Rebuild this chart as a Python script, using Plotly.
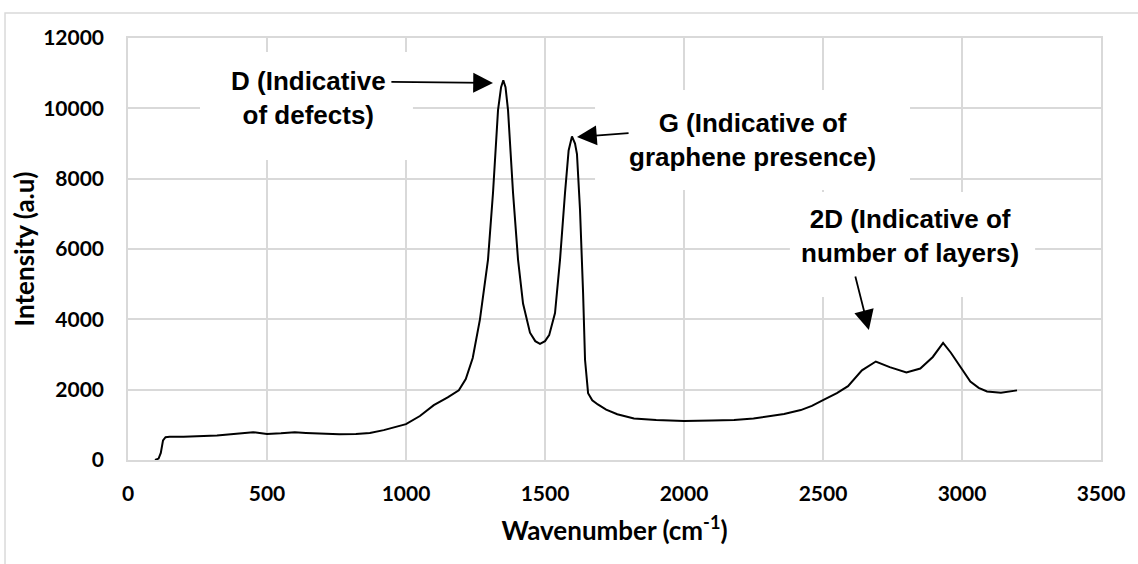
import plotly.graph_objects as go

# Raman spectrum
wavenumber = [97, 110, 118, 126, 135, 150, 200, 260, 320, 380, 420, 450, 480, 500,
              550, 600, 640, 700, 760, 820, 870, 920, 960, 1000, 1050, 1100, 1150,
              1190, 1215, 1240, 1266, 1295, 1313, 1331, 1342, 1350, 1358, 1367, 1385,
              1403, 1421, 1446, 1465, 1482, 1500, 1515, 1536, 1554, 1572, 1585, 1597,
              1608, 1615, 1626, 1637, 1644, 1655, 1670, 1690, 1720, 1760, 1820, 1900,
              2000, 2100, 2180, 2250, 2300, 2360, 2420, 2460, 2500, 2550, 2590, 2640,
              2690, 2740, 2800, 2850, 2895, 2932, 2960, 2990, 3030, 3060, 3090, 3140,
              3170, 3198]
intensity = [0, 40, 200, 560, 650, 660, 660, 670, 700, 740, 760, 790, 760, 740,
             760, 790, 770, 740, 730, 740, 770, 850, 930, 1020, 1250, 1560, 1780,
             1980, 2300, 2900, 4000, 5700, 7600, 9950, 10600, 10800, 10600, 9950, 7600,
             5700, 4450, 3620, 3380, 3300, 3380, 3550, 4180, 5690, 7600, 8800, 9200,
             9000, 8700, 7100, 4750, 2850, 1900, 1700, 1580, 1430, 1300, 1180, 1140,
             1110, 1120, 1140, 1180, 1230, 1310, 1420, 1540, 1700, 1900, 2100, 2550,
             2800, 2640, 2490, 2600, 2930, 3330, 3050, 2700, 2230, 2050, 1950, 1910,
             1950, 1980]

x_ticks = [0, 500, 1000, 1500, 2000, 2500, 3000, 3500]
y_ticks = [0, 2000, 4000, 6000, 8000, 10000, 12000]

labels = ["D (Indicative<br>of defects)",
          "G (Indicative of<br>graphene presence)",
          "2D (Indicative of<br>number of layers)"]
label_pos = [(650, 10300), (2245, 9100), (2813, 6370)]
label_boxes = [(259, 1025, 8532, 11603), (1680, 2813, 7679, 10522), (2381, 3263, 4636, 7622)]
arrow_tips = [(1313, 10722), (1615, 9186), (2665, 3697)]
arrow_tails = [(942, 10750), (1806, 9300), (2615, 5261)]

grid = "#d9d9d9"
tick_font = dict(family="Lato", size=21, color="black", weight="bold")
title_font = dict(family="Lato", size=26, color="black", weight="bold")

fig = go.Figure()
fig.add_trace(go.Scatter(x=wavenumber, y=intensity, mode="lines",
                         line=dict(color="black", width=2), showlegend=False))

shapes = []
for x0, x1, y0, y1 in label_boxes:
    shapes.append(dict(type="rect", xref="x", yref="y", x0=x0, x1=x1, y0=y0, y1=y1,
                       fillcolor="white", line=dict(width=0), layer="between"))
# outer chart frame
shapes.append(dict(type="rect", xref="paper", yref="paper", x0=-0.1264, x1=1.045,
                   y0=-0.3, y1=1.0592, line=dict(color=grid, width=1.5),
                   fillcolor="rgba(0,0,0,0)", layer="above"))

annotations = []
for txt, (lx, ly) in zip(labels, label_pos):
    annotations.append(dict(x=lx, y=ly, xref="x", yref="y", text=txt, showarrow=False,
                            xanchor="center", yanchor="middle", align="center",
                            font=dict(family="Liberation Sans", size=26, color="black",
                                      weight="bold")))
for (tx, ty), (sx, sy) in zip(arrow_tips, arrow_tails):
    annotations.append(dict(x=tx, y=ty, xref="x", yref="y", ax=sx, ay=sy,
                            axref="x", ayref="y", text="", showarrow=True,
                            arrowhead=2, arrowsize=2.2, arrowwidth=1.8,
                            arrowcolor="black", standoff=0, startstandoff=0))

fig.update_layout(
    width=1138, height=564,
    margin=dict(l=128, r=37, t=38, b=104),
    paper_bgcolor="white", plot_bgcolor="white",
    shapes=shapes, annotations=annotations,
    xaxis=dict(range=[0, 3500], tickvals=x_ticks, ticktext=[str(v) for v in x_ticks],
               showgrid=True, gridcolor=grid, gridwidth=1.5, zeroline=False,
               showline=True, linecolor=grid, linewidth=1.5, mirror=True,
               ticks="", tickfont=tick_font, ticklabelstandoff=14,
               title=dict(text="Wavenumber (cm<sup>-1</sup>)", standoff=18,
                          font=title_font)),
    yaxis=dict(range=[0, 12000], tickvals=y_ticks, ticktext=[str(v) for v in y_ticks],
               showgrid=True, gridcolor=grid, gridwidth=1.5, zeroline=False,
               showline=True, linecolor=grid, linewidth=1.5, mirror=True,
               ticks="", tickfont=tick_font, ticklabelstandoff=18,
               title=dict(text="Intensity (a.u)", standoff=1, font=title_font)),
)

fig.write_html("out.html")
